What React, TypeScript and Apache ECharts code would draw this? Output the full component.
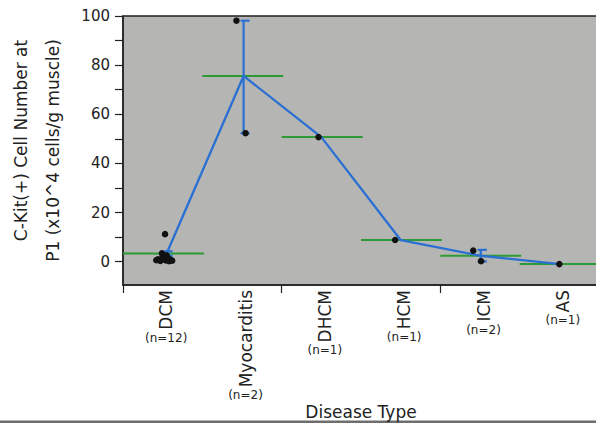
import React, { useEffect, useRef } from "react";
import * as echarts from "echarts";

const categories = ["DCM", "Myocarditis", "DHCM", "HCM", "ICM", "AS"];
const counts = ["(n=12)", "(n=2)", "(n=1)", "(n=1)", "(n=2)", "(n=1)"];
const means = [3.3, 75.6, 50.7, 8.8, 2.4, -1.0];
const meanShift = [0.05, 0.02, 0, 0, 0.01, 0.01];
const errLow: (number | null)[] = [2.4, 52.3, null, null, 0.1, null];
const errHigh: (number | null)[] = [4.2, 98.1, null, null, 4.8, null];
const pointValues = [
  [11.2, 3.4, 2.6, 2.0, 1.4, 1.0, 0.8, 0.6, 0.5, 0.4, 0.3, 0.2],
  [98.1, 52.3],
  [50.7],
  [8.8],
  [4.5, 0.2],
  [-1.0],
];
const pointJitter = [
  [0.03, -0.01, 0.05, 0.0, 0.07, -0.06, 0.1, -0.08, 0.04, 0.12, -0.03, 0.08],
  [-0.07, 0.045],
  [-0.035],
  [-0.07],
  [-0.085, 0.013],
  [0],
];
const yLabelValues = [0, 20, 40, 60, 80, 100];
const yTickValues = [0, 10, 20, 30, 40, 50, 60, 70, 80, 90, 100];

const FONT = '"DejaVu Sans", Verdana, sans-serif';
const TEXT = "#222";
const BLUE = "#2a70d2";
const GREEN = "#2e9a34";

function measure(text: string, size: number): number {
  const c = document.createElement("canvas");
  const ctx = c.getContext("2d");
  if (!ctx) return text.length * size * 0.6;
  ctx.font = `${size}px ${FONT}`;
  return ctx.measureText(text).width;
}

export default function App() {
  const ref = useRef<HTMLDivElement>(null);
  useEffect(() => {
    if (!ref.current) return;
    const chart = echarts.init(ref.current, undefined, { renderer: "svg" });
    const nameSize = 17;
    const countRich: Record<string, any> = {};
    categories.forEach((c, i) => {
      countRich["c" + i] = {
        fontSize: 12,
        fontFamily: FONT,
        color: TEXT,
        padding: [Math.round(measure(c, nameSize)) + 2, 0, 0, 0],
      };
    });

    const scatterData: number[][] = [];
    pointValues.forEach((vals, i) => {
      vals.forEach((v, j) => scatterData.push([i + pointJitter[i][j], v]));
    });
    const meanLine = means.map((m, i) => [i + meanShift[i], m]);
    const meanSeg = means.map((m, i) => [i, m]);
    const errData: number[][] = [];
    errLow.forEach((lo, i) => {
      const hi = errHigh[i];
      if (lo !== null && hi !== null) errData.push([i + meanShift[i], lo, hi]);
    });

    const option: any = {
      animation: false,
      backgroundColor: "#ffffff",
      textStyle: { fontFamily: FONT },
      grid: [
        {
          left: 123,
          right: -3,
          top: 16,
          bottom: 138,
          show: true,
          backgroundColor: "#b5b5b3",
          borderColor: "#222",
          borderWidth: 1.5,
          outerBoundsMode: "none",
        },
        {
          left: 126.5,
          right: -6.5,
          top: 16,
          bottom: 138,
          show: false,
          outerBoundsMode: "none",
        },
      ],
      xAxis: [
        {
          type: "category",
          gridIndex: 0,
          position: "bottom",
          data: categories,
          boundaryGap: true,
          axisLine: { show: true, onZero: false, lineStyle: { color: TEXT, width: 1.5 } },
          axisTick: { show: true, length: 8, lineStyle: { color: TEXT, width: 1.2 } },
          axisLabel: { show: false },
          splitLine: { show: false },
          name: "Disease Type",
          nameLocation: "middle",
          nameGap: 118,
          nameTextStyle: { fontSize: 17, color: TEXT, fontFamily: FONT },
        },
        {
          type: "value",
          gridIndex: 0,
          position: "bottom",
          min: -0.5,
          max: 5.5,
          show: false,
          axisLine: { onZero: false },
        },
        {
          type: "category",
          gridIndex: 1,
          position: "bottom",
          data: categories,
          axisLine: { show: false, onZero: false },
          axisTick: { show: false },
          axisLabel: {
            rotate: 90,
            margin: 5,
            fontSize: nameSize,
            color: TEXT,
            fontFamily: FONT,
            interval: 0,
          },
        },
        {
          type: "category",
          gridIndex: 1,
          position: "bottom",
          offset: 0,
          data: categories,
          axisLine: { show: false, onZero: false },
          axisTick: { show: false },
          axisLabel: {
            margin: 5,
            interval: 0,
            formatter: (_v: string, i: number) => `{c${i}|${counts[i]}}`,
            rich: countRich,
          },
        },
      ],
      yAxis: [
        {
          type: "value",
          gridIndex: 0,
          position: "left",
          min: -9.5,
          max: 100,
          axisLine: { show: true, onZero: false, lineStyle: { color: TEXT, width: 1.5 } },
          axisTick: {
            show: true,
            length: 8,
            customValues: yTickValues,
            lineStyle: { color: TEXT, width: 1.2 },
          },
          axisLabel: {
            customValues: yLabelValues,
            margin: 13,
            fontSize: 15,
            color: TEXT,
            fontFamily: FONT,
          },
          splitLine: { show: false },
          name: "{a|C-Kit(+) Cell Number at}\n{b|P1 (x10^4 cells/g muscle)}",
          nameLocation: "middle",
          nameGap: 54,
          nameTextStyle: {
            fontSize: 17,
            color: TEXT,
            fontFamily: FONT,
            rich: {
              a: { fontSize: 17, fontFamily: FONT, color: TEXT, lineHeight: 32, padding: [0, 0, 0, 20] },
              b: { fontSize: 17, fontFamily: FONT, color: TEXT, lineHeight: 32 },
            },
          },
        },
        { type: "value", gridIndex: 1, show: false, min: -9.5, max: 100, axisLine: { onZero: false } },
      ],
      graphic: [
        {
          type: "rect",
          left: 0,
          bottom: 0,
          shape: { width: 596, height: 2.5 },
          style: { fill: "#6e6e6e" },
        },
      ],
      series: [
        {
          type: "custom",
          xAxisIndex: 1,
          yAxisIndex: 0,
          z: 2,
          data: meanSeg,
          renderItem: (_p: any, api: any) => {
            const i = api.value(0);
            const m = api.value(1);
            const a = api.coord([i - 0.5, m]);
            const b = api.coord([i + 0.52, m]);
            return {
              type: "line",
              shape: { x1: a[0], y1: a[1], x2: b[0], y2: b[1] },
              style: { stroke: GREEN, lineWidth: 2 },
            };
          },
        },
        {
          type: "line",
          xAxisIndex: 1,
          yAxisIndex: 0,
          z: 3,
          data: meanLine,
          symbol: "none",
          lineStyle: { color: BLUE, width: 2.3 },
        },
        {
          type: "custom",
          xAxisIndex: 1,
          yAxisIndex: 0,
          z: 3,
          data: errData,
          renderItem: (_p: any, api: any) => {
            const x = api.value(0);
            const lo = api.coord([x, api.value(1)]);
            const hi = api.coord([x, api.value(2)]);
            const style = { stroke: BLUE, lineWidth: 2.2 };
            return {
              type: "group",
              children: [
                { type: "line", shape: { x1: lo[0], y1: lo[1], x2: hi[0], y2: hi[1] }, style },
                { type: "line", shape: { x1: hi[0] - 3, y1: hi[1], x2: hi[0] + 6, y2: hi[1] }, style },
                { type: "line", shape: { x1: lo[0] - 3, y1: lo[1], x2: lo[0] + 6, y2: lo[1] }, style },
              ],
            };
          },
        },
        {
          type: "scatter",
          xAxisIndex: 1,
          yAxisIndex: 0,
          z: 4,
          data: scatterData,
          symbolSize: 6.5,
          itemStyle: { color: "#111", opacity: 1 },
        },
      ],
    };
    chart.setOption(option);
    return () => chart.dispose();
  }, []);
  return (
    <div
      ref={ref}
      style={{ position: "absolute", left: 0, top: 0, width: 596, height: 423 }}
    />
  );
}
